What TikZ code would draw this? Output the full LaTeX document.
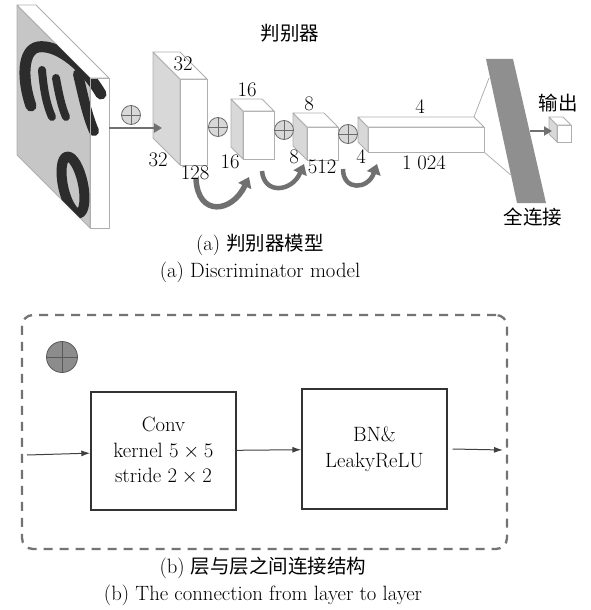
\documentclass[tikz,border=0pt]{standalone}
\usepackage{fontspec}
\newfontfamily\cjk{Noto Sans CJK SC}
\newcommand{\zh}[1]{{\cjk\fontsize{19.5}{25}\selectfont #1}}
\usetikzlibrary{arrows.meta}

\definecolor{facegray}{HTML}{D8D8D8}
\definecolor{edgegray}{HTML}{AFAFAF}
\definecolor{slabgray}{HTML}{C6C6C6}
\definecolor{arrowgray}{HTML}{707070}
\definecolor{fcgray}{HTML}{8F8F8F}
\definecolor{ink}{HTML}{2C2C2C}

\tikzset{
    front/.style={draw=edgegray, fill=white, line width=0.8pt, inner sep=0pt, outer sep=0pt},
    side/.style={draw=edgegray, fill=facegray, line width=0.8pt, line join=round},
    topface/.style={draw=edgegray, fill=white, line width=0.8pt, line join=round},
    oplus/.style={circle, draw=gray!85!black, fill=facegray, minimum size=19pt, inner sep=0pt,
        line width=0.8pt,
        path picture={\draw[gray!85!black, line width=0.8pt]
            (path picture bounding box.north) -- (path picture bounding box.south)
            (path picture bounding box.west) -- (path picture bounding box.east);}},
    dim/.style={inner sep=0pt},
    stroke/.style={ink, line width=#1, line cap=round, line join=round},
    thickarrow/.style={draw=arrowgray, line width=2.6pt, -{Triangle[length=8pt,width=9pt]}},
    curl/.style={draw=arrowgray, line width=#1, -{Triangle[length=10pt,width=14pt]}},
    block/.style={draw=black!80, line width=1.4pt, minimum width=145pt, align=center, inner sep=0pt},
    flow/.style={draw=black!75, line width=1pt, -{Latex[length=9pt,width=6pt]}},
    frame/.style={draw=black!55, line width=2.3pt, dash pattern=on 9pt off 7pt, rounded corners=11pt}
}

% layer as a cuboid: name, left, top, width, height, depth
\newcommand{\layerbox}[6]{%
    \node[front, anchor=north west, minimum width=#4pt, minimum height=#5pt] (#1) at (#2,#3) {};
    \filldraw[side] (#1.north west) -- ++(-#6,-#6) -- ++(0,#5) -- (#1.south west) -- cycle;
    \filldraw[topface] (#1.north west) -- ++(-#6,-#6) -- ++(#4,0) coordinate (#1-back) -- (#1.north east) -- cycle;
}

\begin{document}
\begin{tikzpicture}[x=1pt, y=-1pt, font=\fontsize{20.7}{25.5}\selectfont]
    \useasboundingbox (0,0) rectangle (591,610);

    % input image on a thin slab
    \node[front, anchor=north west, minimum width=19pt, minimum height=150pt] (in) at (90,78) {};
    \filldraw[side, fill=slabgray] (in.north west) -- ++(-73,-73) -- ++(0,150) -- (in.south west) -- cycle;
    \filldraw[topface] (in.north west) -- ++(-73,-73) -- ++(19,0) -- (in.north east) -- cycle;
    \begin{scope}
        \clip (in.north east) -- (in.north west) -- ++(-73,-73) -- ++(0,150) -- (in.south west) -- (in.south east) -- cycle;
        % digit strokes
        \draw[stroke=6pt] (58,29) .. controls (64,40) and (70,50) .. (75,58);
        \draw[stroke=11pt] (31,106) .. controls (22,80) and (22,50) .. (38,47)
            .. controls (55,44) and (82,62) .. (101,94);
        \draw[stroke=8pt] (42,70) .. controls (44,95) and (48,108) .. (52,117);
        \draw[stroke=8pt] (56,78) .. controls (59,95) and (62,108) .. (66,117);
        \draw[stroke=10pt] (78,74) .. controls (83,95) and (87,115) .. (94,131);
        \draw[stroke=10pt, rotate around={12:(73,185)}] (73,185) ellipse [x radius=10, y radius=29];
    \end{scope}
    \draw[edgegray, line width=0.8pt] (in.north east) rectangle (in.south west);

    % conv layers
    \layerbox{b1}{180}{79}{27}{86}{27}
    \layerbox{b2}{243}{111}{31}{48}{12}
    \layerbox{b3}{307}{127}{31}{33}{14}
    \layerbox{b4}{368}{127}{116}{25}{10}
    \layerbox{out}{557}{125}{14}{17}{8}

    % full connection
    \coordinate (fc1) at (486,59);
    \coordinate (fc2) at (513,59);
    \coordinate (fc3) at (546,203);
    \coordinate (fc4) at (517,203);
    \coordinate (fca) at (489,78);
    \coordinate (fcb) at (512,176);
    \coordinate (fcout) at (530,131);
    \fill[fcgray] (fc1) -- (fc2) -- (fc3) -- (fc4) -- cycle;
    \draw[edgegray, line width=0.8pt] (b4-back) -- (fca);
    \draw[edgegray, line width=0.8pt] (b4.south east) -- (fcb);

    % oplus marks between layers
    \node[oplus] (o1) at (131,115) {};
    \node[oplus] (o2) at (218,127) {};
    \node[oplus] (o3) at (284,130) {};
    \node[oplus] (o4) at (348,134) {};

    % arrows
    \coordinate (b1in) at (162,128);
    \coordinate (outin) at (552,131);
    \draw[thickarrow] (in.east |- b1in) -- (b1in);
    \draw[thickarrow] (fcout) -- (outin);

    \coordinate (k1a) at (196,179);
    \coordinate (k1b) at (249,177);
    \coordinate (k2a) at (262,171);
    \coordinate (k2b) at (304,164);
    \coordinate (k3a) at (343,169);
    \coordinate (k3b) at (377,164);
    \draw[curl=5.5pt] (k1a) .. controls +(2,38) and +(-17,36) .. (k1b);
    \draw[curl=4.5pt] (k2a) .. controls +(2,24) and +(-12,28) .. (k2b);
    \draw[curl=4.5pt] (k3a) .. controls +(0,22) and +(-9,26) .. (k3b);

    % sizes
    \node[dim] (l32t) at (183,64) {32};
    \node[dim] (l32s) at (158,160) {32};
    \node[dim] (l128) at (195,173) {128};
    \node[dim] (l16t) at (247,90) {16};
    \node[dim] (l16s) at (230,162) {16};
    \node[dim] (l8t) at (309,104) {8};
    \node[dim] (l8s) at (294,157) {8};
    \node[dim] (l512) at (322,167) {512};
    \node[dim] (l4s) at (361,157) {4};
    \node[dim] (l4t) at (420,107) {4};
    \node[dim] (l1024) at (424,163) {1\hspace{0.28em}024};

    \node (dtitle) at (290,33) {\zh{判别器}};
    \node (outlbl) at (558,103) {\zh{输出}};
    \node (fclbl) at (533,217) {\zh{全连接}};
    \node (capa) at (260,245) {(a) \zh{判别器模型}};
    \node (capaen) at (260,272) {(a) Discriminator model};

    % connection between layers
    \node[frame, minimum width=485pt, minimum height=234pt] (box) at (264.5,432) {};
    \node[oplus, fill=black!45, draw=black!65, minimum size=31pt,
        path picture={\draw[black!65, line width=1pt]
            (path picture bounding box.north) -- (path picture bounding box.south)
            (path picture bounding box.west) -- (path picture bounding box.east);}] (op) at (62,357) {};
    \node[block, minimum height=118pt] (conv) at (163.5,451) {Conv\\kernel $5\times5$\\stride $2\times2$};
    \node[block, minimum height=120pt] (bn) at (374.5,449) {BN\&\\LeakyReLU};
    \coordinate (inl) at (27,455);
    \coordinate (outr) at (503,450);
    \draw[flow] (inl) -- (conv);
    \draw[flow] (conv) -- (bn);
    \draw[flow] ([xshift=5pt]bn.east) -- (outr);

    \node (capb) at (263,568) {(b) \zh{层与层之间连接结构}};
    \node (capben) at (263,595) {(b) The connection from layer to layer};
\end{tikzpicture}
\end{document}
